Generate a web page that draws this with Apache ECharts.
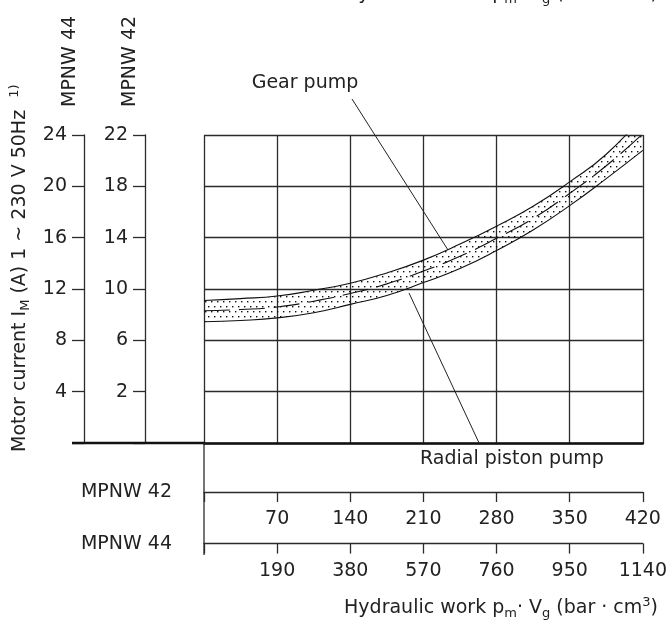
<!DOCTYPE html>
<html><head><meta charset="utf-8">
<script src="https://cdn.jsdelivr.net/npm/echarts@6/dist/echarts.min.js"></script>
<style>html,body{margin:0;padding:0;background:#fff}#c{width:670px;height:621px}</style>
</head><body><div id="c"></div>
<script>
// Hydraulic work on the MPNW 42 scale (bar·cm3)
const workMPNW42 = [0, 35, 70, 105, 140, 175, 210, 245, 280, 315, 350, 385, 420];
// Motor current band (MPNW 44 scale, A)
const upperCurrent = [11.1, 11.25, 11.45, 11.9, 12.45, 13.25, 14.25, 15.5, 16.9, 18.45, 20.35, 22.5, 25.5];
const lowerCurrent = [9.45, 9.55, 9.75, 10.15, 10.8, 11.5, 12.5, 13.6, 15.0, 16.6, 18.5, 20.6, 22.8];
const midCurrent   = [10.3, 10.4, 10.6, 11.05, 11.65, 12.4, 13.4, 14.55, 15.95, 17.5, 19.45, 21.6, 24.1];
// Axis ranges
const axisMPNW42x = {min: 0, max: 420, step: 70};
const axisMPNW44x = {min: 0, max: 1140, step: 190};
const axisMPNW44y = {min: 0, max: 24, step: 4};
const axisMPNW42y = {min: -2, max: 22, step: 4};

const FONT = 'DejaVu Sans';
const TXT = '#222';
const LINE = '#2b2b2b';

function dotPattern() {
  const c = document.createElement('canvas');
  c.width = 12; c.height = 10;
  const g = c.getContext('2d');
  g.fillStyle = '#111';
  [[1,1],[7,1],[4,6],[10,6]].forEach(p => g.fillRect(p[0], p[1], 1.4, 1.4));
  return c;
}

const bandWidth = upperCurrent.map((u, i) => u - lowerCurrent[i]);
const hideMin = (min) => (v) => (v === min ? '' : String(v));
const labelStyle = {fontFamily: FONT, fontSize: 19, color: TXT};

const chart = echarts.init(document.getElementById('c'), null, {renderer: 'canvas'});

const titleRich = {
  sub: {fontFamily: FONT, fontSize: 13, lineHeight: 13, verticalAlign: 'bottom', fill: TXT, color: TXT},
  sup: {fontFamily: FONT, fontSize: 13, lineHeight: 13, verticalAlign: 'top', fill: TXT, color: TXT}
};
const workTitle = 'Hydraulic work p{sub|m}· V{sub|g} (bar · cm{sup|3})';

const lowerAxis = (rng, off, name) => ({
  type: 'value', gridIndex: 0, min: rng.min, max: rng.max, interval: rng.step,
  position: 'bottom', offset: off,
  axisLine: {show: true, onZero: false, lineStyle: {color: LINE, width: 1.3}},
  axisTick: {show: true, length: 10, lineStyle: {color: LINE, width: 1.3}},
  axisLabel: Object.assign({margin: 18, formatter: hideMin(rng.min)}, labelStyle),
  splitLine: {show: false},
  name: name, nameLocation: 'start', nameGap: 32,
  nameTextStyle: {fontFamily: FONT, fontSize: 19, color: TXT}
});
const leftAxis = (rng, off, split) => ({
  type: 'value', gridIndex: 0, min: rng.min, max: rng.max, interval: rng.step,
  position: 'left', offset: off,
  axisLine: {show: true, onZero: false, lineStyle: {color: LINE, width: 1.3}},
  axisTick: {show: true, length: 12, lineStyle: {color: LINE, width: 1.3}},
  axisLabel: Object.assign({margin: 17, formatter: hideMin(rng.min)}, labelStyle),
  splitLine: {show: split, lineStyle: {color: LINE, width: 1.3}}
});

chart.setOption({
  animation: false,
  backgroundColor: '#fff',
  grid: {left: 204, right: 23, top: 135, bottom: 178, containLabel: false},
  xAxis: [
    {type: 'category', gridIndex: 0, data: workMPNW42.map(String), boundaryGap: false,
     position: 'bottom',
     axisLine: {show: true, onZero: false, lineStyle: {color: '#111', width: 2.5}},
     axisTick: {show: false}, axisLabel: {show: false},
     splitLine: {show: true, interval: 1, lineStyle: {color: LINE, width: 1.3}}},
    lowerAxis(axisMPNW42x, 49, 'MPNW 42'),
    lowerAxis(axisMPNW44x, 100.6, 'MPNW 44')
  ],
  yAxis: [
    leftAxis(axisMPNW44y, 120, true),
    leftAxis(axisMPNW42y, 59, false)
  ],
  series: [
    {name: 'lower', type: 'line', xAxisIndex: 0, yAxisIndex: 0, stack: 'band', smooth: true,
     symbol: 'none', data: lowerCurrent, clip: true,
     lineStyle: {color: '#111', width: 1.1}, z: 3},
    {name: 'band', type: 'line', xAxisIndex: 0, yAxisIndex: 0, stack: 'band', smooth: true,
     symbol: 'none', data: bandWidth, clip: true,
     lineStyle: {color: '#111', width: 1.1},
     areaStyle: {color: {image: dotPattern(), repeat: 'repeat'}, opacity: 1}, z: 3},
    {name: 'mid', type: 'line', xAxisIndex: 0, yAxisIndex: 0, smooth: true,
     symbol: 'none', data: midCurrent, clip: true,
     lineStyle: {color: '#111', width: 1.1, type: [26, 9]}, z: 4}
  ],
  graphic: [
    {type: 'line', shape: {x1: 72, y1: 443, x2: 205, y2: 443}, style: {stroke: '#111', lineWidth: 2.5}, z: 10},
    {type: 'line', shape: {x1: 204, y1: 443, x2: 204, y2: 555}, style: {stroke: LINE, lineWidth: 1.3}, z: 10},
    {type: 'line', shape: {x1: 352, y1: 99, x2: 448, y2: 250}, style: {stroke: '#222', lineWidth: 1}, z: 10},
    {type: 'line', shape: {x1: 409, y1: 293, x2: 480, y2: 445}, style: {stroke: '#222', lineWidth: 1}, z: 10},
    {type: 'text', x: 305, y: 83, style: {text: 'Gear pump', font: '19px "DejaVu Sans"', fill: TXT, align: 'center', verticalAlign: 'middle'}, z: 10},
    {type: 'text', x: 420, y: 459, style: {text: 'Radial piston pump', font: '19px "DejaVu Sans"', fill: TXT, align: 'left', verticalAlign: 'middle'}, z: 10},
    {type: 'text', x: 70, y: 107, rotation: Math.PI / 2, style: {text: 'MPNW 44', font: '19px "DejaVu Sans"', fill: TXT, align: 'left', verticalAlign: 'middle'}, z: 10},
    {type: 'text', x: 130, y: 107, rotation: Math.PI / 2, style: {text: 'MPNW 42', font: '19px "DejaVu Sans"', fill: TXT, align: 'left', verticalAlign: 'middle'}, z: 10},
    {type: 'text', x: 20, y: 452, rotation: Math.PI / 2,
     style: {text: 'Motor current I{sub|M} (A) 1 ~ 230 V 50Hz  {sup|1)}', fontFamily: FONT, fontSize: 19, lineHeight: 24,
             fill: TXT, align: 'left', verticalAlign: 'middle', rich: titleRich}, z: 10},
    {type: 'text', x: 658, y: 608,
     style: {text: workTitle, fontFamily: FONT, fontSize: 19, lineHeight: 24,
             fill: TXT, align: 'right', verticalAlign: 'middle', rich: titleRich}, z: 10},
    {type: 'text', x: 658, y: -6,
     style: {text: workTitle, fontFamily: FONT, fontSize: 19, lineHeight: 24,
             fill: TXT, align: 'right', verticalAlign: 'middle', rich: titleRich}, z: 10}
  ]
});
</script></body></html>
